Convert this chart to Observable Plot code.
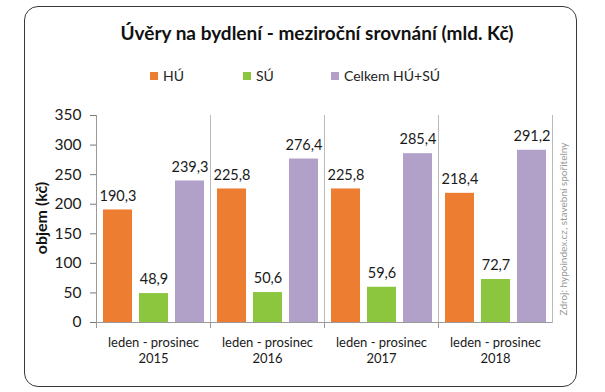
<!DOCTYPE html>
<html>
<head>
<meta charset="utf-8">
<script src="https://cdn.jsdelivr.net/npm/d3@7"></script>
<script src="https://cdn.jsdelivr.net/npm/@observablehq/plot@0.6"></script>
<style>
  body { margin: 0; background: #fff; font-family: Lato, "Open Sans", sans-serif; }
  #wrap { position: relative; width: 605px; height: 392px; overflow: hidden; }
  #wrap svg { position: absolute; left: 0; top: 0; }
  #frame { position: absolute; left: 24px; top: 6px; width: 553px; height: 381px; box-sizing: border-box;
           border: 1.5px solid #3a3a3a; border-radius: 14px; pointer-events: none; }
  #title { position: absolute; left: 0; width: 634px; top: 21px; text-align: center; font-weight: bold;
           font-size: 19px; color: #111; line-height: 24px; white-space: nowrap; }
  .leg { position: absolute; top: 67px; font-size: 14px; color: #222; line-height: 18px; white-space: nowrap; }
  .leg span { display: inline-block; width: 8px; height: 8px; margin-right: 5px; vertical-align: 1px; }
  #ylab { position: absolute; left: 40px; top: 218px; transform: translate(-50%, -50%) rotate(-90deg);
          font-weight: bold; font-size: 16px; color: #111; white-space: nowrap; }
  #src { position: absolute; left: 563px; top: 229px; transform: translate(-50%, -50%) rotate(-90deg);
         font-size: 10px; color: #999; white-space: nowrap; }
</style>
</head>
<body>
<div id="wrap"></div>
<script>
const years = ["2015", "2016", "2017", "2018"];
const series = ["HÚ", "SÚ", "Celkem HÚ+SÚ"];
const colors = ["#ED7D31", "#8CC63F", "#B1A0C8"];
const huValues = [190.3, 225.8, 225.8, 218.4];
const suValues = [48.9, 50.6, 59.6, 72.7];
const totalValues = [239.3, 276.4, 285.4, 291.2];
const yTicks = [0, 50, 100, 150, 200, 250, 300, 350];
const periodLabel = "leden - prosinec";
const titleText = "Úvěry na bydlení - meziroční srovnání (mld. Kč)";
const yLabelText = "objem (kč)";
const sourceText = "Zdroj: hypoindex.cz, stavební spořitelny";

const allValues = [huValues, suValues, totalValues];
const data = [];
years.forEach((yr, i) => {
  series.forEach((s, j) => data.push({year: yr, series: s, value: allValues[j][i]}));
});
const fmt = v => v.toFixed(1).replace(".", ",");

const chart = Plot.plot({
  width: 605,
  height: 392,
  marginLeft: 95,
  marginRight: 52,
  marginTop: 115,
  marginBottom: 70,
  style: {background: "transparent", fontFamily: "Lato, 'Open Sans', sans-serif"},
  fx: {domain: years, padding: 0},
  x: {domain: series, paddingInner: 0.2, paddingOuter: 0.18},
  y: {domain: [0, 350]},
  color: {domain: series, range: colors},
  marks: [
    Plot.frame({anchor: "left", stroke: "#9a9a9a", strokeWidth: 1, insetBottom: -5}),
    Plot.frame({anchor: "right", stroke: "#bbbbbb", strokeWidth: 1}),
    Plot.ruleY([0], {stroke: "#9a9a9a", strokeWidth: 1}),
    Plot.barY(data, {fx: "year", x: "series", y: "value", fill: "series"}),
    Plot.text(data, {fx: "year", x: "series", y: "value", text: d => fmt(d.value), dy: -14,
                     fontSize: 14.5, fill: "#1a1a1a"}),
    Plot.axisY({ticks: yTicks, tickSize: 6, tickPadding: 9, stroke: "#777", fill: "#1a1a1a",
                fontSize: 15.5, label: null, tickFormat: d => String(d)}),
    Plot.axisX({ticks: [], label: null}),
    Plot.axisFx({anchor: "bottom", tickSize: 0, tickPadding: 13, fontSize: 13, fill: "#1a1a1a", label: null,
                 lineHeight: 1.23, tickFormat: d => periodLabel + "\n" + d})
  ]
});

const wrap = document.getElementById("wrap");
wrap.appendChild(chart);

const add = (id, cls, text, left) => {
  const el = document.createElement("div");
  if (id) el.id = id;
  if (cls) el.className = cls;
  el.textContent = text;
  if (left !== undefined) el.style.left = left + "px";
  wrap.appendChild(el);
  return el;
};
add("title", null, titleText);
const legLeft = [150, 243, 331];
series.forEach((s, j) => {
  const el = add(null, "leg", "", legLeft[j]);
  const sw = document.createElement("span");
  sw.style.background = colors[j];
  el.appendChild(sw);
  el.appendChild(document.createTextNode(s));
});
add("ylab", null, yLabelText);
add("src", null, sourceText);
add("frame", null, "");
</script>
</body>
</html>
